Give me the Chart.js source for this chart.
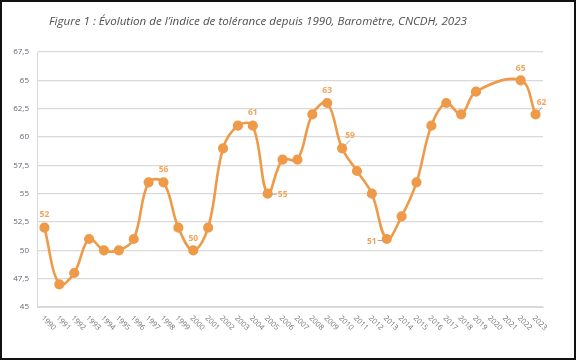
<!DOCTYPE html>
<html>
<head>
<meta charset="utf-8">
<script src="https://cdn.jsdelivr.net/npm/chart.js@4.4.0/dist/chart.umd.min.js"></script>
<style>
  html, body { margin: 0; padding: 0; background: #fff; }
  #frame { position: absolute; left: 0; top: 0; width: 572px; height: 356px; border: 2px solid #111; }
  #title { position: absolute; left: 49px; top: 13px; font-family: "Open Sans", sans-serif; font-style: italic; font-size: 11.6px; color: #505050; white-space: nowrap; }
  #wrap { position: absolute; left: 0; top: 0; width: 578px; height: 361px; }
</style>
</head>
<body>
<div id="wrap"><canvas id="chart" width="578" height="361"></canvas></div>
<div id="frame"></div>
<div id="title">Figure 1 : Évolution de l’indice de tolérance depuis 1990, Baromètre, CNCDH, 2023</div>
<script>
// ---- data ----
const years = ['1990','1991','1992','1993','1994','1995','1996','1997','1998','1999',
               '2000','2001','2002','2003','2004','2005','2006','2007','2008','2009',
               '2010','2011','2012','2013','2014','2015','2016','2017','2018','2019',
               '2020','2021','2022','2023'];
const indexValues = [52, 47, 48, 51, 50, 50, 51, 56, 56, 52,
                     50, 52, 59, 61, 61, 55, 58, 58, 62, 63,
                     59, 57, 55, 51, 53, 56, 61, 63, 62, 64,
                     null, null, 65, 62];
const yTicks = [45, 47.5, 50, 52.5, 55, 57.5, 60, 62.5, 65, 67.5];

// which points carry a value label, and where it sits relative to the point
const labelled = [
  { i: 0,  dx: 0,   dy: -13 },
  { i: 8,  dx: 0,   dy: -13 },
  { i: 10, dx: 0,   dy: -12 },
  { i: 14, dx: 0,   dy: -13 },
  { i: 15, dx: 15,  dy: 1,  leader: true },
  { i: 19, dx: 0,   dy: -12 },
  { i: 20, dx: 8,   dy: -13, leader: true },
  { i: 23, dx: -15, dy: 3,  leader: true },
  { i: 32, dx: 0,   dy: -12 },
  { i: 33, dx: 6,   dy: -12, leader: true }
];

const ORANGE = '#ee9a48';
const LABEL_ORANGE = '#f0a55c';

const overlayPlugin = {
  id: 'overlay',
  afterDatasetsDraw(chart) {
    const ctx = chart.ctx;
    const xs = chart.scales.x, ys = chart.scales.y;
    ctx.save();
    // value labels
    ctx.font = 'bold 8.5px "Open Sans", sans-serif';
    ctx.textAlign = 'center';
    ctx.textBaseline = 'middle';
    labelled.forEach(l => {
      const v = indexValues[l.i];
      const px = xs.getPixelForValue(l.i), py = ys.getPixelForValue(v);
      if (l.leader) {
        ctx.strokeStyle = '#a6a6a6';
        ctx.lineWidth = 1;
        ctx.beginPath();
        if (Math.abs(l.dx) > 10 && Math.abs(l.dy) < 5) {
          const s = Math.sign(l.dx);
          ctx.moveTo(px + s * 4, py + l.dy * 0.5);
          ctx.lineTo(px + s * 9, py + l.dy * 0.5);
        } else {
          ctx.moveTo(px + 3, py - 3);
          ctx.lineTo(px + l.dx, py + l.dy + 5);
        }
        ctx.stroke();
      }
      ctx.fillStyle = LABEL_ORANGE;
      ctx.fillText(String(v), px + l.dx, py + l.dy);
    });
    // rotated year labels
    ctx.font = '7.5px "Open Sans", sans-serif';
    ctx.fillStyle = '#707070';
    ctx.textAlign = 'left';
    ctx.textBaseline = 'middle';
    years.forEach((y, i) => {
      const px = xs.getPixelForValue(i);
      ctx.save();
      ctx.translate(px - 2, chart.chartArea.bottom + 10);
      ctx.rotate(Math.PI / 4);
      ctx.fillText(y, 0, 0);
      ctx.restore();
    });
    ctx.restore();
  }
};

new Chart(document.getElementById('chart'), {
  type: 'line',
  data: {
    labels: years,
    datasets: [{
      data: indexValues,
      borderColor: ORANGE,
      backgroundColor: ORANGE,
      borderWidth: 2.6,
      pointRadius: 3.8,
      pointHoverRadius: 3.8,
      tension: 0.38,
      spanGaps: true,
      fill: false
    }]
  },
  options: {
    responsive: false,
    animation: false,
    layout: { padding: { top: 52, right: 35, left: 0, bottom: 0 } },
    plugins: { legend: { display: false }, tooltip: { enabled: false } },
    scales: {
      x: {
        offset: true,
        grid: { display: false },
        border: { color: '#d9d9d9' },
        ticks: { display: false },
        afterFit: s => { s.height = 54; }
      },
      y: {
        min: 45,
        max: 67.5,
        afterBuildTicks: s => { s.ticks = yTicks.map(v => ({ value: v })); },
        grid: { color: '#d9d9d9', lineWidth: 1.3, drawTicks: false },
        border: { display: true, color: '#d9d9d9' },
        ticks: {
          padding: 8,
          color: '#5f6670',
          font: { family: '"Open Sans", sans-serif', size: 8 },
          callback: v => String(v).replace('.', ',')
        },
        afterFit: s => { s.width = 37; }
      }
    }
  },
  plugins: [overlayPlugin]
});
</script>
</body>
</html>
